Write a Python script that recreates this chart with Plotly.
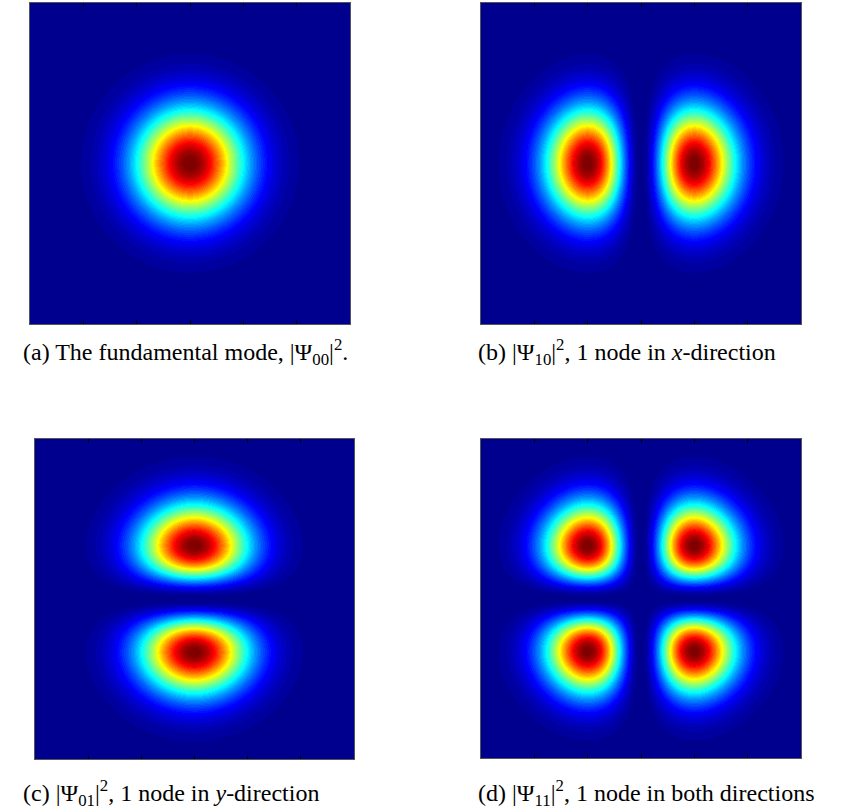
import numpy as np
import plotly.graph_objects as go
from numpy.polynomial.hermite import hermval

# Quantum numbers (n_x, n_y) of each panel and its caption
mode_nx = [0, 1, 0, 1]
mode_ny = [0, 0, 1, 1]
captions = [
    "(a) The fundamental mode, |Ψ<sub>00</sub>|<sup>2</sup>.",
    "(b) |Ψ<sub>10</sub>|<sup>2</sup>, 1 node in <i>x</i>-direction",
    "(c) |Ψ<sub>01</sub>|<sup>2</sup>, 1 node in <i>y</i>-direction",
    "(d) |Ψ<sub>11</sub>|<sup>2</sup>, 1 node in both directions",
]
axis_range = [-3.0, 3.0]
tick_vals = [-2, -1, 0, 1, 2]
grid_n = 320

W, H = 847, 812
# panel boxes in pixels: left, right, top, bottom
boxes = [(30, 350, 3, 324), (481, 801, 3, 324), (35, 354, 439, 759), (481, 801, 439, 758)]
caption_pos = [(21, 352), (476, 352), (21, 793), (476, 793)]


def jet(m=64):
    n = int(np.ceil(m / 4))
    u = np.concatenate([np.arange(1, n + 1) / n, np.ones(n - 1), np.arange(n, 0, -1) / n])
    g = int(np.ceil(n / 2)) - (1 if m % 4 == 1 else 0) + np.arange(1, len(u) + 1)
    r = g + n
    b = g - n
    g = g[g <= m]
    r = r[r <= m]
    b = b[b >= 1]
    J = np.zeros((m, 3))
    J[r - 1, 0] = u[: len(r)]
    J[g - 1, 1] = u[: len(g)]
    J[b - 1, 2] = u[len(u) - len(b):]
    return J


cmap = jet(64)
colorscale = []
for k, c in enumerate(cmap):
    col = "rgb(%d,%d,%d)" % tuple(np.round(c * 255).astype(int))
    colorscale.append([k / 64, col])
    colorscale.append([(k + 1) / 64, col])

edges = np.linspace(axis_range[0], axis_range[1], grid_n + 1)
centers = 0.5 * (edges[:-1] + edges[1:])
X, Y = np.meshgrid(centers, centers)


def intensity(nx, ny):
    cx = np.zeros(nx + 1); cx[nx] = 1
    cy = np.zeros(ny + 1); cy[ny] = 1
    psi = hermval(X, cx) * hermval(Y, cy) * np.exp(-(X**2 + Y**2) / 2)
    p = np.abs(psi) ** 2
    return p / p.max()


fig = go.Figure()
for i, (nx, ny) in enumerate(zip(mode_nx, mode_ny)):
    xa = "x" if i == 0 else "x%d" % (i + 1)
    ya = "y" if i == 0 else "y%d" % (i + 1)
    fig.add_trace(go.Heatmap(
        x=centers, y=centers, z=intensity(nx, ny),
        zmin=0, zmax=1, colorscale=colorscale, showscale=False,
        xaxis=xa, yaxis=ya, hoverinfo="skip",
    ))
    l, r, t, b = boxes[i]
    key = "" if i == 0 else str(i + 1)
    fig.layout["xaxis" + key] = dict(
        domain=[l / W, r / W], range=axis_range, anchor=ya,
        tickvals=tick_vals, ticks="inside", ticklen=4, tickcolor="#000",
        showticklabels=False, showgrid=False, zeroline=False,
        showline=True, linecolor="#555", linewidth=1, mirror="ticks",
    )
    fig.layout["yaxis" + key] = dict(
        domain=[1 - b / H, 1 - t / H], range=axis_range, anchor=xa,
        showticklabels=False, showgrid=False, zeroline=False, ticks="",
        showline=True, linecolor="#555", linewidth=1, mirror=True,
    )
    cxp, cyp = caption_pos[i]
    fig.add_annotation(
        text=captions[i], x=cxp / W, y=1 - cyp / H, xref="paper", yref="paper",
        xanchor="left", yanchor="middle", showarrow=False,
        font=dict(family="Liberation Serif, DejaVu Serif, serif", size=24, color="#000"),
    )

fig.update_layout(
    width=W, height=H, margin=dict(l=0, r=0, t=0, b=0),
    paper_bgcolor="white", plot_bgcolor="white", showlegend=False,
)
fig.write_html("out.html")
